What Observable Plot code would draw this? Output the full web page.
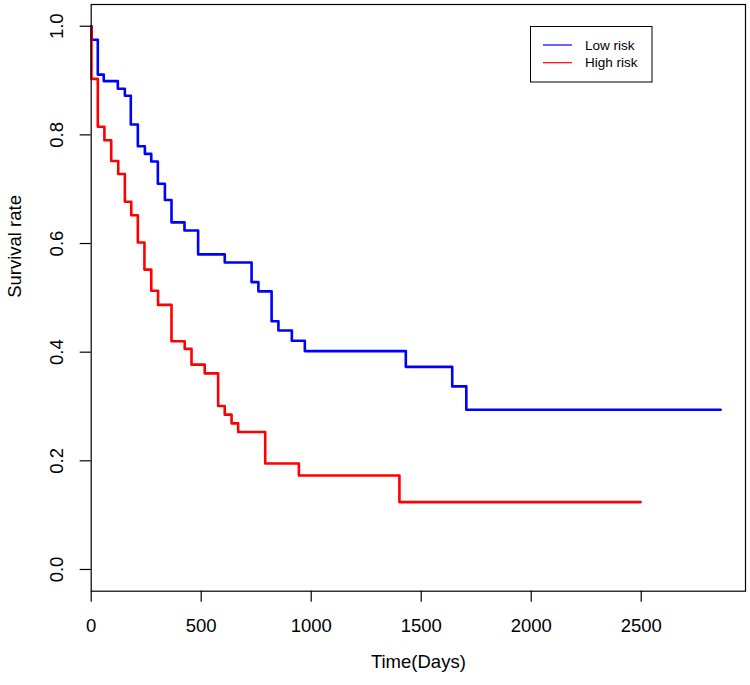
<!DOCTYPE html>
<html>
<head>
<meta charset="utf-8">
<script src="https://cdn.jsdelivr.net/npm/d3@7"></script>
<script src="https://cdn.jsdelivr.net/npm/@observablehq/plot@0.6"></script>
<style>
  html, body { margin: 0; padding: 0; background: #fff; }
  #chart svg { display: block; }
</style>
</head>
<body>
<div id="chart"></div>
<script>
// Low risk group: step times (days) and survival rate
const lowTime = [0, 2, 30, 57, 121, 153, 180, 212, 244, 273, 303, 335, 365, 424, 486, 607, 729, 760, 820, 851, 912, 971, 1430, 1641, 1705, 2861];
const lowSurv = [1.0, 0.975, 0.911, 0.899, 0.885, 0.872, 0.819, 0.779, 0.765, 0.751, 0.710, 0.680, 0.639, 0.624, 0.580, 0.565, 0.529, 0.512, 0.457, 0.440, 0.421, 0.402, 0.373, 0.337, 0.294, 0.294];
// High risk group
const highTime = [0, 1, 30, 60, 91, 123, 153, 182, 212, 242, 273, 304, 365, 425, 456, 516, 577, 607, 638, 668, 791, 944, 1401, 2497];
const highSurv = [1.0, 0.903, 0.815, 0.790, 0.752, 0.728, 0.677, 0.652, 0.602, 0.552, 0.513, 0.487, 0.420, 0.406, 0.377, 0.361, 0.301, 0.285, 0.269, 0.253, 0.195, 0.173, 0.124, 0.124];

const seriesNames = ["Low risk", "High risk"];
const seriesColors = ["#0000ff", "#ff0000"];
const xTicks = [0, 500, 1000, 1500, 2000, 2500];
const yTicks = [0, 0.2, 0.4, 0.6, 0.8, 1.0];
const xLabel = "Time(Days)";
const yLabel = "Survival rate";

const low = lowTime.map((t, i) => ({time: t, surv: lowSurv[i], group: seriesNames[0]}));
const high = highTime.map((t, i) => ({time: t, surv: highSurv[i], group: seriesNames[1]}));

const font = "'Liberation Sans', Arial, sans-serif";

const chart = Plot.plot({
  width: 750,
  height: 685,
  marginLeft: 90.7,
  marginRight: 5,
  marginTop: 4,
  marginBottom: 94.3,
  style: {fontFamily: font, fontSize: "18px", color: "#000", background: "#fff"},
  x: {domain: [0, 2974]},
  y: {domain: [-0.04, 1.04]},
  marks: [
    Plot.line(low, {x: "time", y: "surv", curve: "step-after", stroke: seriesColors[0], strokeWidth: 2.6}),
    Plot.line(high, {x: "time", y: "surv", curve: "step-after", stroke: seriesColors[1], strokeWidth: 2.6}),
    Plot.frame({stroke: "#000", strokeWidth: 1.2}),
    Plot.axisX({ticks: xTicks, tickSize: 11, tickPadding: 17, tickFormat: d => String(d), label: null, fontSize: 18.5, stroke: "#000", strokeWidth: 1.2}),
    Plot.axisY({ticks: yTicks, tickSize: 11, tickPadding: 17, tickRotate: -90, tickFormat: d => d.toFixed(1), label: null, fontSize: 18.5, stroke: "#000", strokeWidth: 1.2}),
    Plot.text([xLabel], {text: d => d, frameAnchor: "bottom", dy: 77, fontSize: 18.5}),
    Plot.text([yLabel], {text: d => d, frameAnchor: "left", dx: -76, rotate: -90, fontSize: 18.5})
  ]
});

document.getElementById("chart").appendChild(chart);

// Legend box (top right, inside the plot)
const svg = d3.select(chart);
const lg = svg.append("g").attr("font-family", font).attr("font-size", 13.5).attr("text-anchor", "start");
lg.append("rect").attr("x", 530.5).attr("y", 26.5).attr("width", 121.5).attr("height", 55.5)
  .attr("fill", "#fff").attr("stroke", "#000").attr("stroke-width", 1);
seriesNames.forEach((name, i) => {
  const y = 45 + i * 17.7;
  lg.append("line").attr("x1", 543).attr("x2", 572).attr("y1", y).attr("y2", y)
    .attr("stroke", seriesColors[i]).attr("stroke-width", 1.2);
  lg.append("text").attr("x", 585).attr("y", y).attr("dy", "0.35em").attr("text-anchor", "start").attr("fill", "#000").text(name);
});
</script>
</body>
</html>
